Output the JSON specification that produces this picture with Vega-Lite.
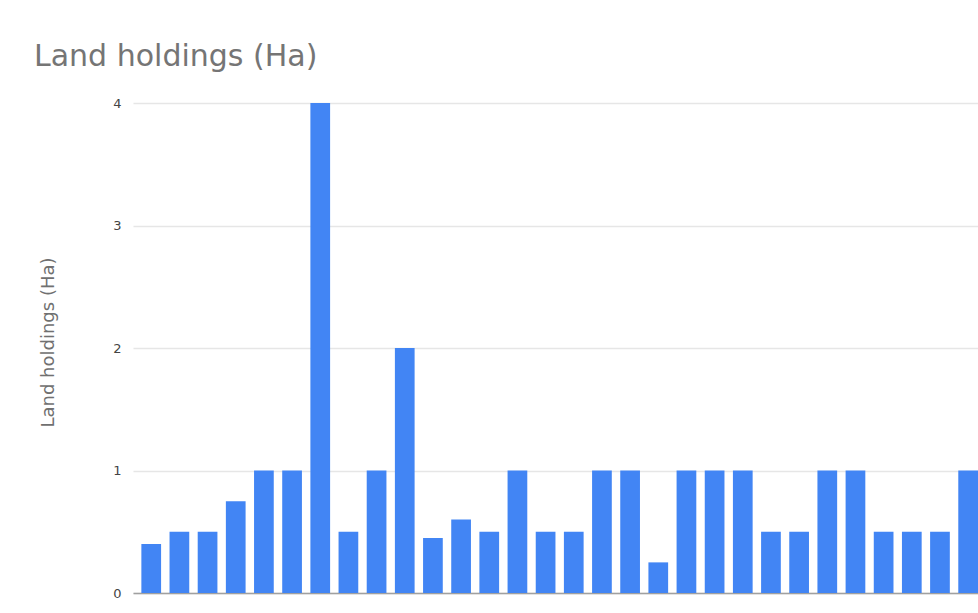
{
  "$schema": "https://vega.github.io/schema/vega-lite/v6.json",
  "autosize": {"type": "none"},
  "padding": {"left": 133, "top": 103, "right": 0, "bottom": 20},
  "width": 845,
  "height": 490,
  "background": "white",
  "title": {
    "text": "Land holdings (Ha)",
    "anchor": "start",
    "frame": "group",
    "dx": -99,
    "dy": 30,
    "baseline": "alphabetic",
    "offset": 31,
    "font": "DejaVu Sans",
    "fontSize": 30,
    "fontWeight": "normal",
    "color": "#757575"
  },
  "data": {
    "values": [
      {"n": 1, "ha": 0.4}, {"n": 2, "ha": 0.5}, {"n": 3, "ha": 0.5}, {"n": 4, "ha": 0.75},
      {"n": 5, "ha": 1}, {"n": 6, "ha": 1}, {"n": 7, "ha": 4}, {"n": 8, "ha": 0.5},
      {"n": 9, "ha": 1}, {"n": 10, "ha": 2}, {"n": 11, "ha": 0.45}, {"n": 12, "ha": 0.6},
      {"n": 13, "ha": 0.5}, {"n": 14, "ha": 1}, {"n": 15, "ha": 0.5}, {"n": 16, "ha": 0.5},
      {"n": 17, "ha": 1}, {"n": 18, "ha": 1}, {"n": 19, "ha": 0.25}, {"n": 20, "ha": 1},
      {"n": 21, "ha": 1}, {"n": 22, "ha": 1}, {"n": 23, "ha": 0.5}, {"n": 24, "ha": 0.5},
      {"n": 25, "ha": 1}, {"n": 26, "ha": 1}, {"n": 27, "ha": 0.5}, {"n": 28, "ha": 0.5},
      {"n": 29, "ha": 0.5}, {"n": 30, "ha": 1}
    ]
  },
  "mark": {"type": "bar", "color": "#4285F4"},
  "encoding": {
    "x": {
      "field": "n",
      "type": "ordinal",
      "sort": null,
      "scale": {"paddingInner": 0.3, "paddingOuter": 0.1485, "align": 1},
      "axis": {
        "title": null,
        "labels": false,
        "ticks": false,
        "domain": true,
        "domainColor": "#a0a0a0",
        "domainWidth": 1.5,
        "grid": false
      }
    },
    "y": {
      "field": "ha",
      "type": "quantitative",
      "scale": {"domain": [0, 4], "nice": false},
      "axis": {
        "title": "Land holdings (Ha)",
        "values": [0, 1, 2, 3, 4],
        "format": "d",
        "domain": false,
        "ticks": false,
        "labelPadding": 12,
        "labelFont": "DejaVu Sans",
        "labelFontSize": 13,
        "labelColor": "#444444",
        "titleFont": "DejaVu Sans",
        "titleFontSize": 18,
        "titleFontWeight": "normal",
        "titleColor": "#707070",
        "titlePadding": 55,
        "titleY": 239,
        "gridColor": "#e6e6e6",
        "gridWidth": 1.5
      }
    }
  },
  "config": {"view": {"stroke": null}}
}
